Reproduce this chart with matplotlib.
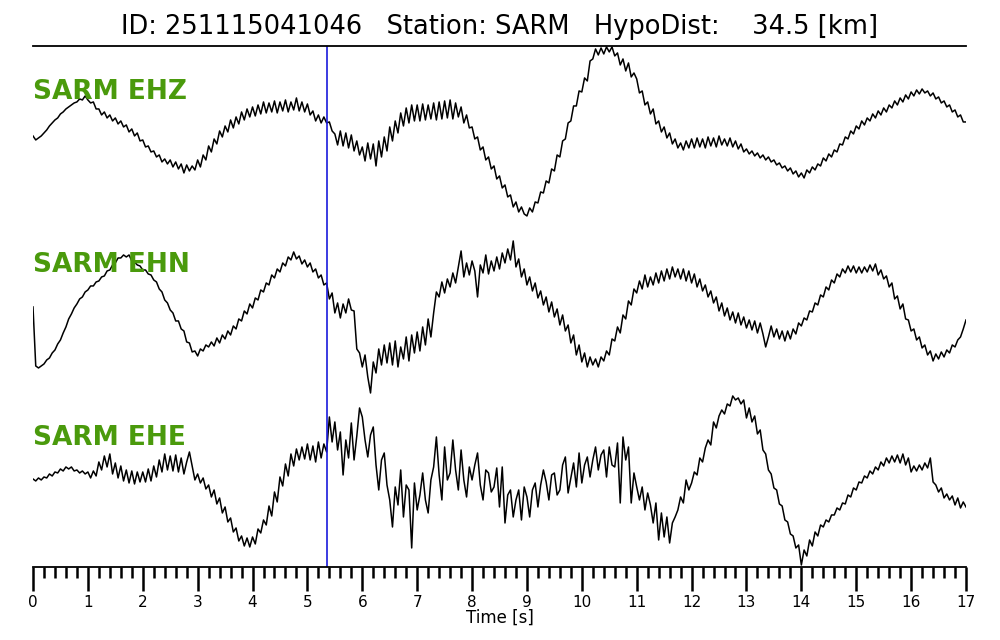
import numpy as np
import matplotlib
matplotlib.use("Agg")
import matplotlib.pyplot as plt
from matplotlib.ticker import MultipleLocator

# Event / station info
event_id = "251115041046"
station = "SARM"
hypo_dist_km = 34.5
channels = ["EHZ", "EHN", "EHE"]
pick_time = 5.357  # s, blue marker
dt = 0.05  # sample spacing of the values below [s]

# Amplitudes (arbitrary units), one value every 0.05 s, 0..17 s
ehz = [
    -3, -7, -5, -3, 0, 3, 7, 10, 13, 15, 19, 21, 24, 26, 28, 30, 31, 34, 33, 37,
    33, 30, 31, 24, 24, 18, 21, 15, 18, 12, 15, 9, 12, 6, 8, 1, 4, -3, 0, -8,
    -7, -14, -13, -19, -18, -24, -22, -29, -26, -31, -27, -34, -29, -36, -31, -40, -32, -38, -33, -37,
    -27, -34, -22, -27, -13, -19, -6, -11, 2, -4, 7, 1, 13, 5, 16, 9, 21, 13, 24, 16,
    26, 17, 28, 19, 31, 20, 30, 21, 32, 20, 31, 22, 33, 21, 31, 23, 35, 22, 31, 21,
    29, 18, 22, 12, 18, 10, 16, 10, 11, 2, -1, -12, 2, -13, 0, -15, -2, -18, -8, -22,
    -14, -28, -10, -26, -11, -33, -8, -24, -4, -18, 6, -8, 12, 0, 20, 7, 25, 10, 28, 12,
    28, 12, 29, 13, 28, 14, 30, 13, 31, 14, 32, 15, 33, 14, 30, 16, 26, 10, 18, 5,
    6, -6, -4, -17, -14, -27, -24, -36, -33, -46, -43, -55, -52, -64, -62, -74, -69, -79, -74, -81,
    -83, -75, -79, -69, -70, -59, -60, -48, -50, -36, -38, -22, -24, -8, -6, 10, 12, 27, 27, 42,
    41, 55, 52, 72, 74, 84, 78, 85, 79, 86, 81, 86, 77, 80, 68, 74, 62, 70, 56, 60,
    54, 40, 42, 28, 31, 19, 24, 9, 12, 1, 6, -5, 0, -11, -6, -15, -10, -17, -8, -15,
    -6, -15, -5, -14, -6, -15, -4, -13, -5, -14, -3, -12, -6, -13, -5, -14, -8, -16, -11, -19,
    -16, -21, -18, -23, -20, -25, -22, -27, -24, -29, -27, -32, -30, -35, -33, -38, -35, -41, -38, -44,
    -40, -45, -37, -40, -34, -37, -31, -33, -25, -28, -21, -24, -17, -19, -11, -12, -4, -6, 2, -1,
    7, 4, 12, 8, 15, 12, 19, 15, 22, 18, 25, 21, 28, 25, 32, 28, 35, 31, 38, 34,
    41, 37, 43, 39, 44, 40, 42, 37, 40, 34, 36, 30, 32, 26, 28, 21, 23, 16, 18, 11,
    11,
]

ehn = [
    0, -59, -61, -59, -57, -53, -51, -46, -43, -37, -33, -26, -20, -12, -7, -1, 3, 8, 10, 15,
    17, 21, 21, 25, 26, 30, 31, 36, 37, 42, 44, 49, 49, 52, 50, 52, 46, 45, 42, 41,
    37, 37, 33, 32, 27, 25, 18, 15, 7, 4, -3, -6, -14, -14, -22, -24, -35, -36, -45, -44,
    -49, -42, -44, -38, -40, -35, -39, -31, -36, -28, -32, -24, -28, -19, -22, -12, -14, -4, -7, 3,
    -1, 9, 7, 17, 15, 24, 22, 32, 29, 38, 35, 44, 41, 50, 47, 55, 48, 51, 43, 47,
    40, 44, 35, 38, 29, 32, 22, 24, 8, 14, -6, 4, -11, 3, -6, 8, -3, -4, -42, -46,
    -60, -48, -70, -86, -55, -66, -42, -58, -38, -56, -36, -58, -34, -60, -40, -52, -30, -54, -28, -46,
    -25, -44, -20, -38, -12, -30, -6, 15, 10, 25, 14, 28, 20, 34, 24, 40, 56, 30, 44, 32,
    46, 36, 10, 42, 34, 52, 33, 46, 36, 50, 38, 54, 44, 58, 47, 66, 40, 48, 30, 38,
    22, 30, 16, 24, 9, 16, 2, 10, -5, 5, -10, -2, -18, -8, -24, -18, -36, -28, -48, -38,
    -55, -46, -60, -50, -58, -52, -60, -50, -54, -44, -48, -32, -34, -20, -26, -8, -12, 6, 2, 18,
    14, 26, 18, 32, 20, 30, 22, 34, 24, 36, 26, 38, 28, 40, 30, 38, 28, 38, 26, 36,
    24, 33, 20, 28, 16, 22, 10, 16, 4, 10, -4, 4, -9, -1, -13, -5, -16, -6, -18, -10,
    -21, -13, -23, -14, -26, -16, -27, -40, -30, -19, -30, -22, -32, -24, -34, -24, -32, -22, -27, -16,
    -19, -11, -13, -4, -5, 4, 2, 12, 10, 20, 17, 27, 24, 33, 30, 38, 34, 41, 35, 41,
    34, 40, 34, 40, 35, 42, 36, 43, 32, 37, 28, 31, 20, 24, 8, 11, -2, 3, -12, -13,
    -24, -22, -33, -30, -41, -38, -48, -44, -54, -47, -52, -45, -50, -43, -46, -38, -40, -33, -30, -22,
    -13,
]

ehe = [
    1, -1, 2, 0, 3, 2, 6, 4, 8, 7, 11, 9, 13, 11, 13, 9, 10, 7, 9, 6,
    8, 2, 9, 4, 18, 10, 24, 13, 26, 6, 17, 2, 14, -1, 10, -3, 9, -4, 8, -2,
    8, -2, 11, -1, 14, 3, 20, 8, 26, 10, 24, 9, 25, 8, 22, 6, 18, 28, 14, 0,
    6, -3, 2, -9, -5, -17, -10, -24, -18, -33, -27, -42, -38, -52, -48, -61, -56, -66, -58, -67,
    -57, -64, -49, -53, -40, -45, -26, -36, -12, -22, 3, -6, 16, 4, 26, 14, 31, 20, 33, 21,
    36, 20, 34, 18, 38, 22, 36, 28, 63, 38, 58, 30, 48, 5, 40, 22, 57, 20, 44, 72,
    63, 40, 23, 45, 53, 15, -10, 20, 27, -5, -20, -47, -7, -25, 10, -37, -5, -10, -68, -3,
    -30, -15, 7, -20, -33, 0, 13, 43, 5, -20, 33, 0, 7, 40, 10, -10, 30, 0, -17, 13,
    0, 15, 27, -5, -20, 10, 7, -12, -7, 12, -27, 13, -43, -15, -10, -37, -20, -10, -40, -7,
    -17, -37, -10, -3, -27, -5, 10, -2, -20, 5, 7, -15, -10, 15, 23, -13, 2, 17, -7, 27,
    -3, 15, 23, 3, 20, 33, 10, 25, 30, 3, 33, 15, 13, 37, -23, 43, 20, 33, -23, 7,
    -7, -20, -7, -30, -13, -25, -43, -23, -60, -33, -57, -37, -63, -43, -37, -30, -17, -23, 0, -10,
    -3, 8, 5, 22, 18, 32, 40, 35, 58, 52, 64, 70, 66, 76, 74, 84, 80, 82, 76, 80,
    62, 72, 58, 64, 46, 50, 30, 26, 10, 6, -8, -10, -24, -26, -40, -42, -54, -56, -68, -65,
    -85, -70, -76, -60, -66, -52, -56, -45, -47, -40, -42, -35, -35, -28, -30, -23, -24, -15, -17, -8,
    -10, -2, -3, 4, 2, 9, 6, 13, 10, 18, 14, 22, 17, 24, 18, 25, 17, 26, 15, 22,
    8, 14, 9, 15, 10, 17, 12, 22, -2, -5, -12, -8, -18, -14, -20, -16, -25, -18, -28, -22,
    -27,
]

traces = [ehz, ehn, ehe]
offsets = [434, 260, 87]  # vertical slot of each channel inside the axes
label_y = [475, 302, 129]

fig = plt.figure(figsize=(10, 6.4), dpi=100)
ax = fig.add_axes([0.033, 0.1141, 0.933, 0.8141])

for ch, tr, off, ly in zip(channels, traces, offsets, label_y):
    tr = np.asarray(tr, dtype=float)
    t = np.arange(len(tr)) * dt
    ax.plot(t, tr + off, color="black", lw=1.1)
    ax.text(0.0, ly, f"{station} {ch}", color="#4a9a0c", fontsize=19,
            fontweight="bold", ha="left", va="center")

ax.axvline(pick_time, color="#1a1adb", lw=1.2)

ax.set_xlim(0, 17)
ax.set_ylim(0, 521)
ax.spines["left"].set_visible(False)
ax.spines["right"].set_visible(False)
ax.spines["top"].set_linewidth(1.3)
ax.spines["bottom"].set_linewidth(1.3)
ax.set_yticks([])
ax.xaxis.set_major_locator(MultipleLocator(1))
ax.xaxis.set_minor_locator(MultipleLocator(0.2))
ax.tick_params(axis="x", which="major", length=17, width=1.8, labelsize=11, pad=3)
ax.tick_params(axis="x", which="minor", length=8, width=1.8)
ax.set_xlabel("Time [s]", fontsize=12, labelpad=-1)

fig.text(0.5, 1 - 27 / 640,
         f"ID: {event_id}   Station: {station}   HypoDist: {hypo_dist_km:7.1f} [km]",
         ha="center", va="center", fontsize=18.5)

fig.savefig("out.png", dpi=100)
